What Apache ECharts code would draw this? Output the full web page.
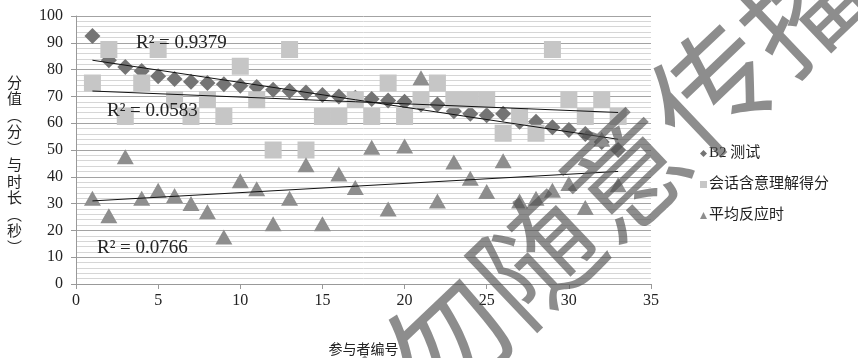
<!DOCTYPE html>
<html>
<head>
<meta charset="utf-8">
<script src="https://cdn.jsdelivr.net/npm/echarts@6/dist/echarts.min.js"></script>
<style>
  html, body { margin: 0; padding: 0; background: #fff; }
  #chart { width: 858px; height: 358px; }
</style>
</head>
<body>
<div id="chart"></div>
<script>
// 参与者编号
var ids = [1, 2, 3, 4, 5, 6, 7, 8, 9, 10, 11, 12, 13, 14, 15, 16, 17,
  18, 19, 20, 21, 22, 23, 24, 25, 26, 27, 28, 29, 30, 31, 32, 33];

// B2 测试
var b2 = [92.5, 83.5, 81, 79.5, 77.5, 76.5, 75.5, 75, 74.5, 74, 73.5, 72.5, 72, 71.5, 70.5, 70, 69.5,
  69, 68.5, 68, 67, 67, 64.5, 63.5, 63, 63.5, 60.5, 60.5, 58.5, 57.5, 56, 53, 50];

// 会话含意理解得分
var huihua = [75, 87.5, 62.5, 75, 87.5, 68.75, 62.5, 68.75, 62.5, 81.25, 68.75, 50, 87.5, 50, 62.5, 62.5, 68.75,
  62.5, 75, 62.5, 68.75, 75, 68.75, 68.75, 68.75, 56.25, 62.5, 56.25, 87.5, 68.75, 62.5, 68.75, 62.5];

// 平均反应时
var fanying = [32, 25.5, 47.5, 32, 35, 33, 30, 27, 17.5, 38.5, 35.5, 22.5, 32, 44.5, 22.5, 41, 36,
  51, 28, 51.5, 77, 31, 45.5, 39.5, 34.5, 46, 31, 32, 35, 37.5, 28.5, 54, 37];

// 趋势线端点 [x, y]
var trendB2 = [[1, 83.5], [33, 54]];
var trendHuihua = [[1, 72], [33, 64]];
var trendFanying = [[1, 31], [33, 42]];

var r2Labels = ['R\u00b2 = 0.9379', 'R\u00b2 = 0.0583', 'R\u00b2 = 0.0766'];
var names = ['B2 测试', '会话含意理解得分', '平均反应时'];

function pairs(vals) {
  return ids.map(function (id, i) { return [id, vals[i]]; });
}

var serif = 'Liberation Serif, Noto Sans CJK SC';
var yName = ['分', '值', '\ufe35', '分', '\ufe36', '与', '时', '长', '\ufe35', '秒', '\ufe36'];

var chart = echarts.init(document.getElementById('chart'));
chart.setOption({
  animation: false,
  backgroundColor: '#fff',
  grid: { left: 76, right: 207, top: 16, bottom: 74, outerBoundsMode: 'none' },
  legend: {
    data: names,
    orient: 'vertical',
    left: 695,
    top: 141,
    itemWidth: 7,
    itemHeight: 7,
    itemGap: 16,
    textStyle: { fontFamily: serif, fontSize: 15, color: '#222', padding: [0, 0, 0, -3] }
  },
  xAxis: {
    type: 'value',
    min: 0,
    max: 35,
    interval: 5,
    name: '参与者编号',
    nameLocation: 'middle',
    nameGap: 59,
    nameTextStyle: { fontFamily: serif, fontSize: 14, color: '#222' },
    axisLine: { show: true, lineStyle: { color: '#999', width: 1 } },
    axisTick: { show: true, length: 5, lineStyle: { color: '#999' } },
    axisLabel: { fontFamily: serif, fontSize: 16, color: '#222', margin: 9 },
    splitLine: { show: false }
  },
  yAxis: {
    type: 'value',
    min: 0,
    max: 100,
    interval: 10,
    axisLine: { show: true, lineStyle: { color: '#999', width: 1 } },
    axisTick: { show: true, length: 5, lineStyle: { color: '#999' } },
    axisLabel: { fontFamily: serif, fontSize: 16, color: '#222', margin: 13 },
    splitLine: { show: true, lineStyle: { color: '#a3a3a3', width: 1 } },
    minorTick: { show: false, splitNumber: 5 },
    minorSplitLine: { show: true, lineStyle: { color: '#d6d6d6', width: 1 } }
  },
  series: [
    {
      name: names[0], type: 'scatter', symbol: 'diamond', symbolSize: 16,
      itemStyle: { color: '#747474', opacity: 1 },
      data: pairs(b2), z: 2
    },
    {
      name: names[1], type: 'scatter', symbol: 'rect', symbolSize: 17,
      itemStyle: { color: '#c6c6c6', opacity: 1 },
      data: pairs(huihua), z: 3
    },
    {
      name: names[2], type: 'scatter', symbol: 'triangle', symbolSize: [17, 15],
      itemStyle: { color: '#8e8e8e', opacity: 1 },
      data: pairs(fanying), z: 4
    },
    {
      type: 'line', data: trendB2, showSymbol: false, silent: true, z: 5,
      lineStyle: { color: '#111', width: 1 }
    },
    {
      type: 'line', data: trendHuihua, showSymbol: false, silent: true, z: 5,
      lineStyle: { color: '#111', width: 1 }
    },
    {
      type: 'line', data: trendFanying, showSymbol: false, silent: true, z: 5,
      lineStyle: { color: '#111', width: 1 }
    }
  ],
  graphic: [
    {
      type: 'text', left: 136, top: 34, z: 10,
      style: { text: r2Labels[0], fontFamily: serif, fontSize: 19, fill: '#222' }
    },
    {
      type: 'text', left: 107, top: 102, z: 10,
      style: { text: r2Labels[1], fontFamily: serif, fontSize: 19, fill: '#222' }
    },
    {
      type: 'text', left: 97, top: 239, z: 10,
      style: { text: r2Labels[2], fontFamily: serif, fontSize: 19, fill: '#222' }
    },
    {
      type: 'text', left: 7, top: 74, z: 10,
      style: {
        text: yName.join('\n'), fontFamily: 'Noto Sans CJK SC', fontSize: 15,
        lineHeight: 16.5, fill: '#222'
      }
    },
    {
      type: 'text', x: 580, y: 215, rotation: 0.76, z: 100,
      style: {
        text: '请勿随意传播', fontFamily: 'Noto Sans CJK SC', fontWeight: 'normal',
        fontSize: 122, fill: 'rgba(80,80,80,0.65)', align: 'center', verticalAlign: 'middle'
      }
    }
  ]
});
</script>
</body>
</html>
